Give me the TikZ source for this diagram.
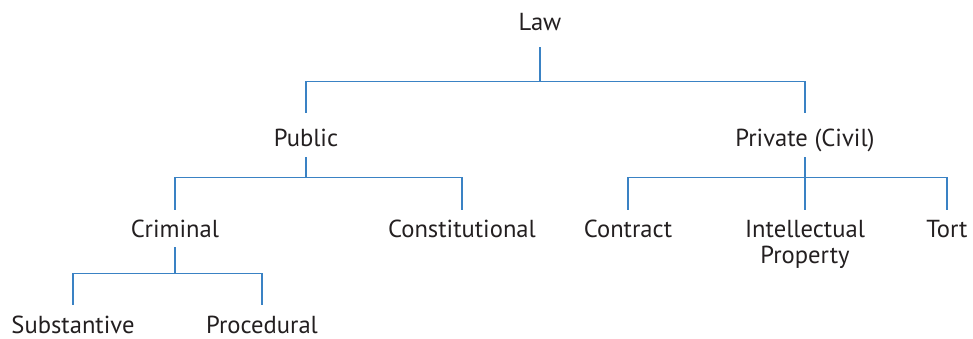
\documentclass[tikz,border=0pt]{standalone}
\usepackage{fontspec}
\setmainfont{PT Sans}
\usepackage{xcolor}
\usepackage{tikz}
\usetikzlibrary{positioning}
\definecolor{lawblue}{HTML}{3A82C4}
\definecolor{lawink}{HTML}{231F20}

\begin{document}
\begin{tikzpicture}[
        x=0.025cm, y=-0.025cm,
        lawtext/.style={
            font=\fontsize{17.5}{18}\selectfont,
            text=lawink,
            inner sep=0pt,
            anchor=base
        },
        root/.style={lawtext, text height=0.45cm, text depth=0.425cm},
        branch/.style={lawtext, text height=0.825cm, text depth=0.275cm},
        leaf/.style={lawtext, text height=0.675cm, text depth=0.25cm},
        lowleaf/.style={lawtext, text height=0.7cm, text depth=0.2cm},
        link/.style={draw=lawblue, line width=0.95pt}
    ]
        \useasboundingbox (0,0) rectangle (973,338);

        % fork levels
        \coordinate (bus1) at (0,81.5);
        \coordinate (bus2) at (0,177.5);
        \coordinate (bus3) at (0,273.5);

        \node[root] (law) at (540,30) {Law};
        \node[branch] (public) at (306,146) {Public};
        \node[branch] (private) at (805,146) {Private (Civil)};
        \node[leaf] (criminal) at (175,237) {Criminal};
        \node[leaf] (constitutional) at (462,237) {Constitutional};
        \node[leaf] (contract) at (628,237) {Contract};
        \node[lawtext, align=center, anchor=north, inner ysep=0.26cm] (ip) at (805,210) {Intellectual\\Property};
        \node[leaf] (tort) at (947,237) {Tort};
        \node[lowleaf] (substantive) at (73,333) {Substantive};
        \node[lowleaf] (procedural) at (262,333) {Procedural};

        \draw[link] (law) -- (law |- bus1) coordinate (lawfork);
        \draw[link] (public) |- (lawfork) -| (private);

        \draw[link] (public) -- (public |- bus2) coordinate (pubfork);
        \draw[link] (criminal) |- (pubfork) -| (constitutional);

        \draw[link] (private) -- (ip);
        \draw[link] (contract) |- (private |- bus2) -| (tort);

        \draw[link] (criminal) -- (criminal |- bus3) coordinate (crimfork);
        \draw[link] (substantive) |- (crimfork) -| (procedural);
    \end{tikzpicture}
\end{document}
